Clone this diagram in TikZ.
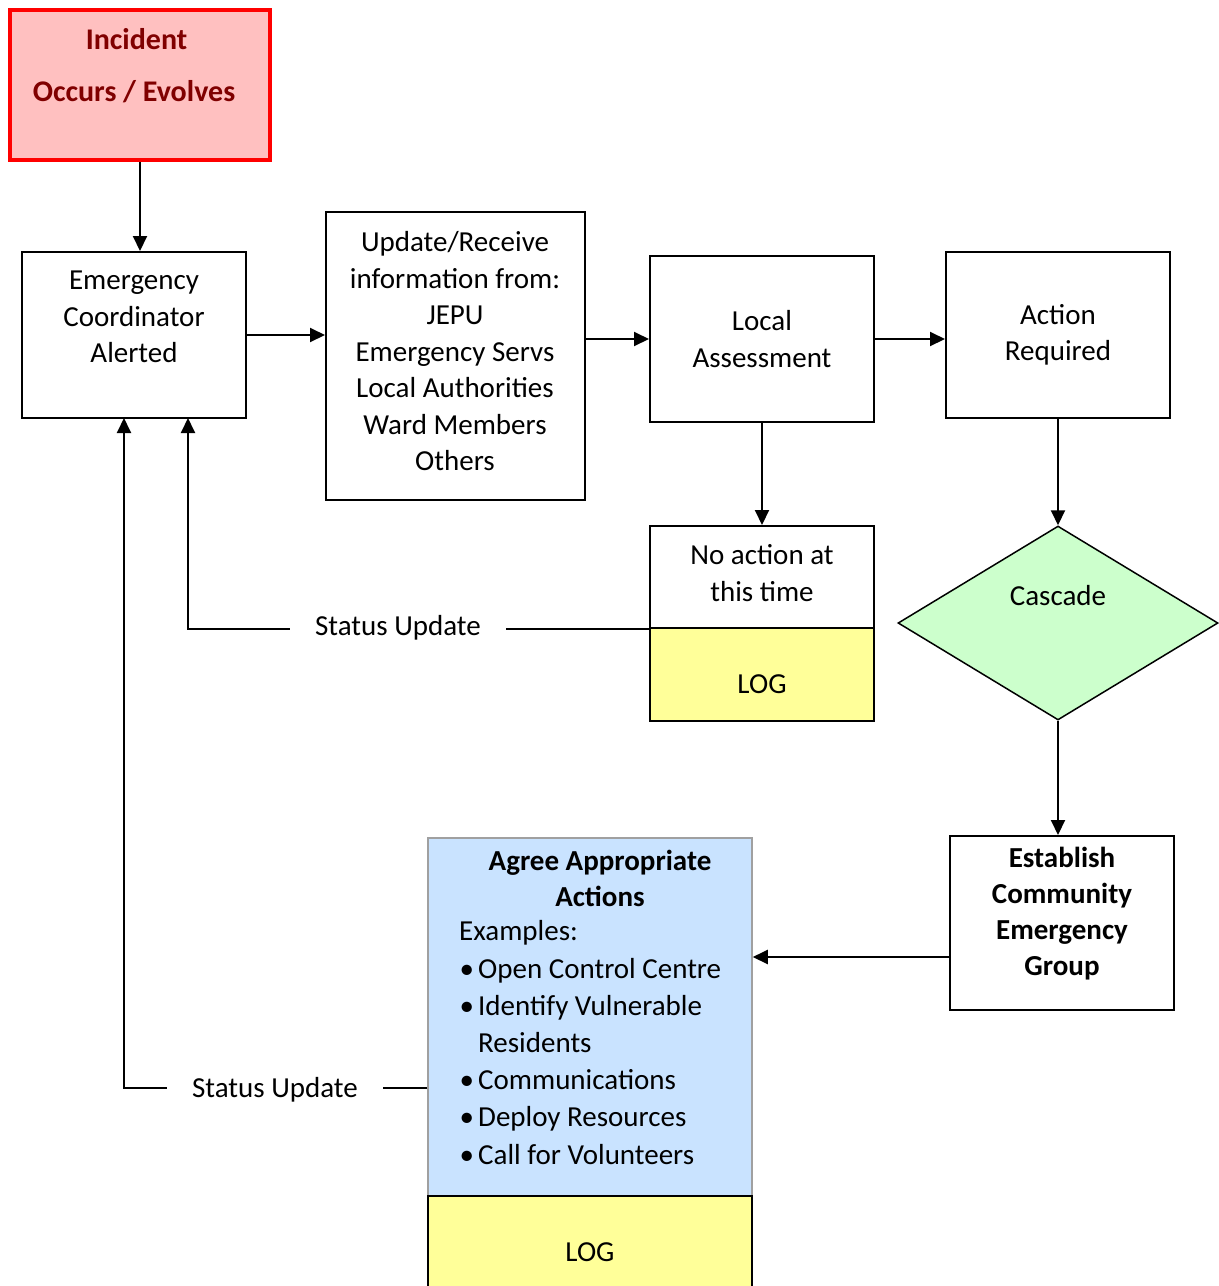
\documentclass[tikz,border=0pt]{standalone}
\usepackage{fontspec}
\setmainfont{Carlito}
\usetikzlibrary{arrows.meta,shapes.geometric}
\definecolor{incfill}{HTML}{FFC0C0}
\definecolor{incred}{HTML}{FF0000}
\definecolor{inctext}{HTML}{800000}
\definecolor{logyellow}{HTML}{FFFF99}
\definecolor{cascgreen}{HTML}{CCFFCC}
\definecolor{agblue}{HTML}{C9E3FF}
\definecolor{aggray}{HTML}{A0A0A0}
\tikzset{
  box/.style={draw=black, line width=2pt, inner sep=0pt},
  txt/.style={inner sep=0pt, align=center, font=\fontsize{29}{36.5}\selectfont},
  conn/.style={line width=2pt, -{Triangle[length=15pt,width=14pt]}},
  plain/.style={line width=2pt},
  lbl/.style={inner xsep=25pt, inner ysep=0pt, font=\fontsize{29}{36.5}\selectfont}
}
\begin{document}
\begin{tikzpicture}[x=1pt,y=-1pt]
\useasboundingbox (0,0) rectangle (1219,1286);
\clip (0,0) rectangle (1219,1286);
% boxes
\node[box, draw=incred, line width=4pt, fill=incfill, minimum width=260pt, minimum height=150pt] (inc) at (140,85) {};
\node[box, minimum width=224pt, minimum height=166pt] (ec) at (134,335) {};
\node[box, minimum width=259pt, minimum height=288pt] (upd) at (455.5,356) {};
\node[box, minimum width=224pt, minimum height=166pt] (la) at (762,339) {};
\node[box, minimum width=224pt, minimum height=166pt] (ar) at (1058,335) {};
\node[box, minimum width=224pt, minimum height=102pt] (na) at (762,577) {};
\node[box, fill=logyellow, minimum width=224pt, minimum height=93pt] (nalog) at (762,674.5) {};
\node[draw=black, line width=1.5pt, fill=cascgreen, diamond, inner sep=0pt, minimum width=320pt, minimum height=194pt] (casc) at (1058,623) {};
\node[box, minimum width=224pt, minimum height=174pt] (est) at (1062,923) {};
\node[box, draw=aggray, line width=1.5pt, fill=agblue, minimum width=324pt, minimum height=358pt] (agr) at (590,1017) {};
\node[box, fill=logyellow, minimum width=324pt, minimum height=100pt] (aglog) at (590,1246) {};
% texts
\node[txt, text=inctext, font=\fontsize{30}{52}\selectfont\bfseries] (inct) at (134,66) {\hspace*{5pt}Incident\\Occurs / Evolves};
\node[txt] (ect) at (134,317) {Emergency\\Coordinator\\Alerted};
\node[txt] (updt) at (455,351.5) {Update/Receive\\information from:\\JEPU\\Emergency Servs\\Local Authorities\\Ward Members\\Others};
\node[txt] (lat) at (762,339) {Local\\Assessment};
\node[txt] (art) at (1058,335) {Action\\Required};
\node[txt] (nat) at (762,573) {No action at\\this time};
\node[txt] (nalogt) at (762,684) {LOG};
\node[txt] (casct) at (1058,596) {Cascade};
\node[txt, font=\fontsize{29}{36}\selectfont\bfseries] (estt) at (1062,913.5) {Establish\\Community\\Emergency\\Group};
\node[txt, font=\fontsize{29}{36}\selectfont\bfseries] (agrt) at (600,878) {Agree Appropriate\\Actions};
\node[txt, align=left, anchor=west, font=\fontsize{29}{37.2}\selectfont] (agrl) at (459,1042.5) {Examples:\\
\makebox[19pt][l]{\hspace{0.5pt}•}Open Control Centre\\
\makebox[19pt][l]{\hspace{0.5pt}•}Identify Vulnerable\\
\hspace*{19pt}Residents\\
\makebox[19pt][l]{\hspace{0.5pt}•}Communications\\
\makebox[19pt][l]{\hspace{0.5pt}•}Deploy Resources\\
\makebox[19pt][l]{\hspace{0.5pt}•}Call for Volunteers};
\node[txt] (aglogt) at (590,1252) {LOG};
\node[lbl] (su1) at (398,628) {Status Update};
\node[lbl] (su2) at (275,1090) {Status Update};
\coordinate (ecin1) at (188,418);
\coordinate (ecin2) at (124,418);
% connectors
\draw[conn] (inc.south) -- (inc.south |- ec.north);
\draw[conn] (ec.east) -- (ec.east -| upd.west);
\draw[conn] (la.west -| upd.east) -- (la.west);
\draw[conn] (la.east) -- (la.east -| ar.west);
\draw[conn] (la.south) -- (na.north);
\draw[conn] (ar.south) -- (casc.north);
\draw[conn] (casc.south) -- (casc.south |- est.north);
\draw[conn] ([yshift=-34pt]est.west) -- ([yshift=-34pt]est.west -| agr.east);
\draw[plain] (na.south west) -- (na.south west -| su1.east);
\draw[conn] (su1.west |- na.south west) -| (ecin1);
\draw[plain] ([yshift=-71pt]agr.west) -- ([yshift=-71pt]agr.west -| su2.east);
\draw[conn] ([yshift=-71pt]agr.west -| su2.west) -| (ecin2);
\end{tikzpicture}
\end{document}
